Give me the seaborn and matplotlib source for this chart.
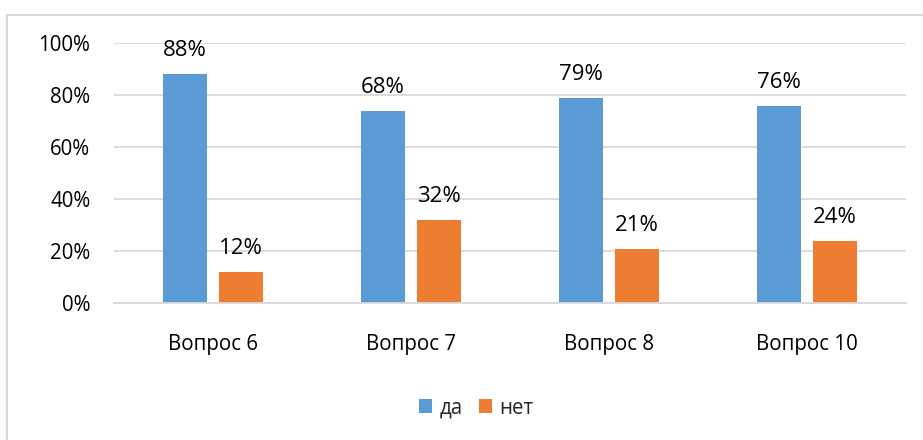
import pandas as pd
import matplotlib
matplotlib.use("Agg")
import matplotlib.pyplot as plt
from matplotlib.lines import Line2D
import seaborn as sns

categories = ["Вопрос 6", "Вопрос 7", "Вопрос 8", "Вопрос 10"]
answers = ["да", "нет"]
yes_vals = [88, 74, 79, 76]
no_vals = [12, 32, 21, 24]
yes_labels = ["88%", "68%", "79%", "76%"]
no_labels = ["12%", "32%", "21%", "24%"]
yticks = [0, 20, 40, 60, 80, 100]
ytick_labels = ["0%", "20%", "40%", "60%", "80%", "100%"]

colors = ["#5B9BD5", "#ED7D31"]
grid_color = "#D9D9D9"

df = pd.DataFrame({
    "question": categories * 2,
    "answer": [answers[0]] * len(categories) + [answers[1]] * len(categories),
    "value": yes_vals + no_vals,
})

sns.set_style("white")
plt.rcParams["font.family"] = ["Open Sans", "DejaVu Sans"]

fig = plt.figure(figsize=(9.23, 4.40), dpi=100)
ax = fig.add_axes([114 / 923, 1 - 303.3 / 440, 792 / 923, 260 / 440])

sns.barplot(data=df, x="question", y="value", hue="answer", hue_order=answers,
            order=categories, palette=colors, saturation=1, width=0.566, gap=0.214,
            linewidth=0, ax=ax, legend=True)

ax.set_xlim(-0.5, len(categories) - 0.5)
ax.set_ylim(0, 100)
ax.set_yticks(yticks)
ax.set_yticklabels(ytick_labels)
ax.set_xlabel("")
ax.set_ylabel("")
ax.grid(axis="y", color=grid_color, linewidth=1.3)
ax.set_axisbelow(True)
for side in ["top", "right", "left"]:
    ax.spines[side].set_visible(False)
ax.spines["bottom"].set_color(grid_color)
ax.spines["bottom"].set_linewidth(1.3)
ax.tick_params(axis="y", length=0, pad=17, labelsize=14.8, labelcolor="#000000")
ax.tick_params(axis="x", length=0, pad=22, labelsize=14.8, labelcolor="#000000")

# value labels above bars
for container, labels in zip(ax.containers, [yes_labels, no_labels]):
    for patch, text in zip(container.patches, labels):
        ax.annotate(text, (patch.get_x() + patch.get_width() / 2, patch.get_height()),
                    xytext=(0, 13), textcoords="offset points", ha="center",
                    va="baseline", fontsize=16, color="#000000", annotation_clip=False)

handles, labels = ax.get_legend_handles_labels()
ax.get_legend().remove()
fig.legend(handles, labels, loc="center", bbox_to_anchor=(476 / 923, 1 - 408 / 440),
           ncol=2, frameon=False, fontsize=14.8, handlelength=0.65, handleheight=0.65,
           handletextpad=0.35, columnspacing=0.8)

# chart area border (top and left edges visible)
fig.add_artist(Line2D([7 / 923, 1], [1 - 15 / 440] * 2, transform=fig.transFigure,
                      color=grid_color, linewidth=1.5))
fig.add_artist(Line2D([7 / 923] * 2, [0, 1 - 15 / 440], transform=fig.transFigure,
                      color=grid_color, linewidth=1.5))

fig.savefig("out.png", dpi=100)
